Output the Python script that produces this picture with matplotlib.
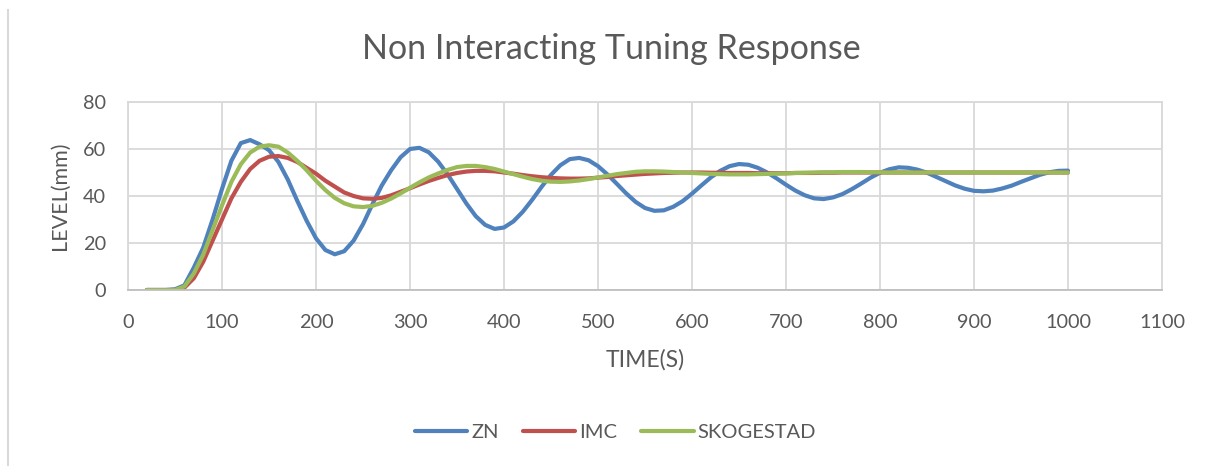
import matplotlib
matplotlib.use("Agg")
import matplotlib.pyplot as plt
from matplotlib.lines import Line2D

plt.rcParams['font.family'] = ['Lato', 'DejaVu Sans']

time_s = list(range(20, 1001, 10))

zn = [0, 0, 0, 0.3, 2, 9.5, 18, 30, 43, 55,
      62.5, 63.8, 62, 59.5, 54.5, 47, 38, 29.5, 22, 17,
      15.2, 16.5, 21, 28, 36.5, 44.5, 51, 56.5, 60, 60.5,
      58.6, 54.6, 49.2, 43.0, 36.8, 31.4, 27.7, 26.0, 26.6, 29.2,
      33.3, 38.4, 43.9, 49.0, 53.1, 55.7, 56.2, 55.2, 52.7, 49.2,
      45.2, 41.1, 37.5, 34.9, 33.7, 33.9, 35.4, 37.8, 41.0, 44.5,
      47.9, 50.7, 52.7, 53.6, 53.3, 52.0, 50.0, 47.5, 44.8, 42.3,
      40.3, 39.0, 38.7, 39.4, 40.8, 42.9, 45.3, 47.8, 49.9, 51.4,
      52.2, 52.0, 51.2, 49.9, 48.1, 46.3, 44.5, 43.1, 42.2, 42.0,
      42.3, 43.2, 44.4, 46.0, 47.5, 49.0, 50.1, 50.7, 50.8]

imc = [0, 0, 0, 0, 1, 5, 12, 21, 30, 39,
       46, 51.5, 55, 56.7, 57, 56.2, 54.5, 52, 49.5, 46.5,
       44, 41.5, 40, 39, 38.8, 39.2, 40.3, 41.8, 43.3, 44.9,
       46.4, 47.7, 48.9, 49.8, 50.4, 50.7, 50.7, 50.5, 50.0, 49.5,
       48.9, 48.4, 48.0, 47.7, 47.5, 47.4, 47.4, 47.5, 47.8, 48.1,
       48.5, 48.8, 49.1, 49.4, 49.6, 49.8, 49.9, 50.0, 50.0, 50.0,
       49.9, 49.9, 49.8, 49.8, 49.8, 49.7, 49.7, 49.7, 49.7, 49.8,
       49.8, 49.8, 49.9, 49.9, 50.0, 50.0, 50.0, 50.0, 50.0, 50.0,
       50.0, 50.0, 50.0, 50.0, 50.0, 50.0, 50.0, 50.0, 50.0, 50.0,
       50.0, 50.0, 50.0, 50.0, 50.0, 50.0, 50.0, 50.0, 50.0]

skogestad = [0, 0, 0, 0, 1.5, 7, 15, 25.5, 36, 46,
             53.5, 58.5, 61, 61.6, 61, 58.5, 55, 51, 46.5, 42.5,
             39.2, 36.9, 35.6, 35.3, 35.8, 37.1, 38.9, 41.1, 43.5, 45.8,
             47.9, 49.6, 51.1, 52.3, 52.8, 52.8, 52.3, 51.5, 50.4, 49.3,
             48.2, 47.2, 46.5, 46.1, 46.0, 46.2, 46.6, 47.2, 47.9, 48.6,
             49.3, 49.8, 50.3, 50.5, 50.5, 50.4, 50.2, 50.0, 49.8, 49.6,
             49.4, 49.3, 49.2, 49.2, 49.2, 49.3, 49.4, 49.5, 49.6, 49.8,
             49.9, 50.0, 50.1, 50.1, 50.2, 50.2, 50.2, 50.1, 50.1, 50.0,
             50.0, 50.0, 50.0, 50.0, 50.0, 50.0, 50.0, 50.0, 50.0, 50.0,
             50.0, 50.0, 50.0, 50.0, 50.0, 50.0, 50.0, 50.0, 50.0]

series_names = ["ZN", "IMC", "SKOGESTAD"]
series_colors = ["#4F81BD", "#C0504D", "#9BBB59"]
x_ticks = list(range(0, 1101, 100))
y_ticks = list(range(0, 81, 20))

W, H = 1208, 466
fig = plt.figure(figsize=(W / 100, H / 100), dpi=100)
ax = fig.add_axes([128 / W, 1 - 290 / H, (1162 - 128) / W, (290 - 102) / H])

for vals, name, col in zip([zn, imc, skogestad], series_names, series_colors):
    ax.plot(time_s, vals, color=col, lw=3.0, label=name, solid_capstyle='round')

ax.set_xlim(0, 1100)
ax.set_ylim(0, 80)
ax.set_xticks(x_ticks)
ax.set_yticks(y_ticks)
ax.grid(True, color="#d9d9d9", lw=1.3)
ax.set_axisbelow(True)
for s in ["top", "right", "left"]:
    ax.spines[s].set_color("#d9d9d9")
    ax.spines[s].set_linewidth(1.3)
ax.spines["bottom"].set_color("#bfbfbf")
ax.spines["bottom"].set_linewidth(1.3)
ax.tick_params(length=0, labelsize=14.3, colors="#595959")
ax.tick_params(axis="x", pad=17)
ax.tick_params(axis="y", pad=16)

ax.set_xlabel("TIME(S)", fontsize=16.5, color="#595959", labelpad=13)
ax.set_ylabel("LEVEL(mm)", fontsize=15.5, color="#595959", labelpad=9)

fig.text(0.506, 1 - 49 / H, "Non Interacting Tuning Response", ha="center", va="center",
         fontsize=24.5, color="#595959")

fig.legend(loc="center", bbox_to_anchor=(615.5 / W, 1 - 432 / H), ncol=3, frameon=False,
           fontsize=14.5, labelcolor="#595959", handlelength=2.6, columnspacing=1.2,
           handletextpad=0.2)

fig.add_artist(Line2D([8 / W, 8 / W], [0, 1 - 10 / H], color="#d9d9d9", lw=1.5))

fig.savefig("out.png", dpi=100, facecolor="white")
